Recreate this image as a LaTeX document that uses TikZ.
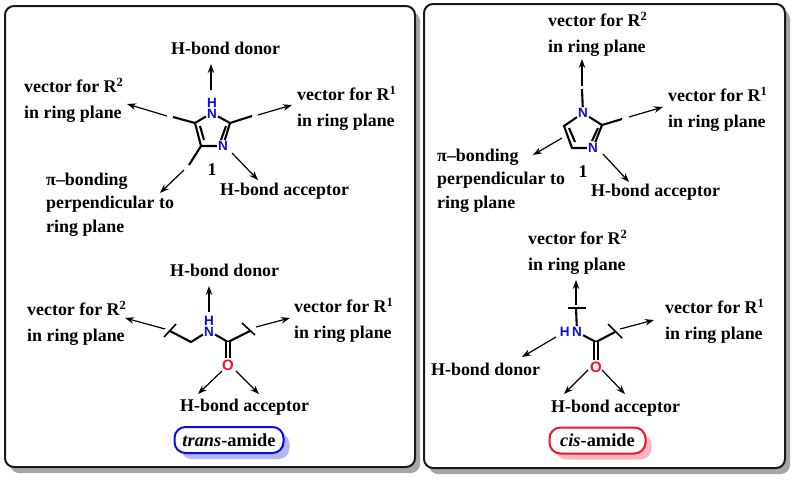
\documentclass[tikz,border=0pt]{standalone}
\usepackage{fontspec}
\setmainfont{Liberation Serif}
\newfontfamily\atomfont{Liberation Sans}
\usetikzlibrary{positioning, arrows.meta, shadows}
\definecolor{hetN}{RGB}{10,10,230}
\definecolor{hetO}{RGB}{240,20,40}
\tikzset{
  lbl/.style={anchor=west, align=left, inner sep=0pt, font=\fontsize{17.9}{26}\selectfont\bfseries},
  num/.style={inner sep=0pt, font=\fontsize{17.9}{26}\selectfont\bfseries},
  atomn/.style={inner sep=1pt, text=hetN, font=\fontsize{13.5}{11}\selectfont\atomfont\bfseries},
  atomnh/.style={atomn, align=center, anchor=south},
  atomo/.style={inner sep=1.5pt, text=hetO, font=\fontsize{15}{15}\selectfont\atomfont\bfseries},
  bond/.style={line width=2.1pt},
  tick/.style={line width=1.6pt},
  vec/.style={line width=1.2pt, -{Stealth[length=9pt,width=6.5pt]}},
  panel/.style={draw=black!90, line width=2pt, rounded corners=9pt, fill=white,
    general shadow={shadow xshift=5pt, shadow yshift=-6pt, fill=black!35, draw=none}},
  tag/.style={line width=2pt, rounded corners=11pt, fill=white, inner sep=0pt,
    font=\fontsize{18.4}{26}\selectfont\bfseries},
}
\begin{document}
\begin{tikzpicture}[x=1pt,y=-1pt]
\useasboundingbox (0,0) rectangle (797,480);
% panels
\node[panel, minimum width=410pt, minimum height=461pt] (leftpanel) at (210,236.5) {};
\node[panel, minimum width=361pt, minimum height=464pt] (rightpanel) at (604.5,236) {};

% left imidazole
\node[atomnh] (n1a) at (212,119.5) {H\\N};
\node[atomn] (n3a) at (223,146) {N};
\coordinate (c2a) at (230,123);
\coordinate (c4a) at (201,146);
\coordinate (c5a) at (195,123);
\coordinate (c4ai) at (204,140);
\coordinate (c5ai) at (200,126);
\coordinate (c2ai) at (226,126);
\coordinate (n3ai) at (221,140);
\coordinate (r1a) at (252,116);
\coordinate (r2a) at (173,117);
\coordinate (pia) at (189,165);
\draw[bond] ([yshift=3pt]n1a.south east) -- (c2a) -- (r1a);
\draw[bond] ([yshift=3pt]n1a.south west) -- (c5a) -- (r2a);
\draw[bond] (c5a) -- (c4a) -- (n3a);
\draw[bond] (c4a) -- (pia);
\draw[bond] (c2a) -- (n3a);
\draw[bond] (c5ai) -- (c4ai);
\draw[bond] (c2ai) -- (n3ai);
\node[num] (numa) at (212,170) {1};
\node[lbl] (donora) at (171,48) {H-bond donor};
\node[lbl] (vecr2a) at (24,100) {vector for R\textsuperscript{2}\\in ring plane};
\node[lbl] (vecr1a) at (297,108) {vector for R\textsuperscript{1}\\in ring plane};
\node[lbl] (pitexta) at (46,204.5) {π–bonding\\[-2.5pt]perpendicular to\\[-2.5pt]ring plane};
\node[lbl] (accepta) at (220,191) {H-bond acceptor};
\coordinate (a1s) at (211,90);
\coordinate (a1e) at (211,64);
\coordinate (a2s) at (258,115);
\coordinate (a2e) at (292,105);
\coordinate (a3s) at (167,116);
\coordinate (a3e) at (127,104);
\coordinate (a4s) at (184,170);
\coordinate (a4e) at (160,193);
\coordinate (a5s) at (232,153);
\coordinate (a5e) at (258,180);
\draw[vec] (a1s) -- (a1e);
\draw[vec] (a2s) -- (a2e);
\draw[vec] (a3s) -- (a3e);
\draw[vec] (a4s) -- (a4e);
\draw[vec] (a5s) -- (a5e);

% left amide
\node[atomnh] (nb) at (209,337.5) {H\\N};
\node[atomo] (ob) at (228,365) {O};
\coordinate (ch2b) at (191,342);
\coordinate (cob) at (228,342);
\coordinate (r2b) at (170,331);
\coordinate (r1b) at (250,331);
\draw[bond] (r2b) -- (ch2b) -- ([yshift=3pt]nb.south west);
\draw[bond] ([yshift=3pt]nb.south east) -- (cob) -- (r1b);
\draw[bond, double=white, double distance=2.6pt, line width=1.6pt] (cob) -- (ob);
\draw[tick] (164,337) -- (176,324);
\draw[tick] (242,323) -- (255,335);
\node[lbl] (donorb) at (170,270) {H-bond donor};
\node[lbl] (vecr2b) at (27,323) {vector for R\textsuperscript{2}\\in ring plane};
\node[lbl] (vecr1b) at (294,320) {vector for R\textsuperscript{1}\\in ring plane};
\node[lbl] (acceptb) at (180,407) {H-bond acceptor};
\coordinate (b1s) at (209,312);
\coordinate (b1e) at (209,286);
\coordinate (b2s) at (256,327);
\coordinate (b2e) at (290,318);
\coordinate (b3s) at (165,329);
\coordinate (b3e) at (125,318);
\coordinate (b4s) at (222,371);
\coordinate (b4e) at (198,394);
\coordinate (b5s) at (236,371);
\coordinate (b5e) at (259,394);
\draw[vec] (b1s) -- (b1e);
\draw[vec] (b2s) -- (b2e);
\draw[vec] (b3s) -- (b3e);
\draw[vec] (b4s) -- (b4e);
\draw[vec] (b5s) -- (b5e);
\node[tag, draw=hetN, minimum width=109pt, minimum height=26pt,
  copy shadow={shadow xshift=6pt, shadow yshift=-6pt, fill=hetN!30, draw=none}] (transtag) at (229,440) {\textit{trans}-amide};

% right imidazole
\node[atomn] (n1c) at (583,113) {N};
\node[atomn] (n3c) at (593,148) {N};
\coordinate (c2c) at (602,125);
\coordinate (c4c) at (572,148);
\coordinate (c5c) at (564,126);
\coordinate (c4ci) at (575,142);
\coordinate (c5ci) at (569,128);
\coordinate (c2ci) at (598,128);
\coordinate (n3ci) at (592,141);
\coordinate (r1c) at (622,119);
\coordinate (r2c) at (582,89);
\draw[bond] (n1c) -- (c2c) -- (r1c);
\draw[bond] (n1c) -- (c5c) -- (c4c) -- (n3c);
\draw[bond] (n1c) -- (r2c);
\draw[bond] (c2c) -- (n3c);
\draw[bond] (c5ci) -- (c4ci);
\draw[bond] (c2ci) -- (n3ci);
\node[num] (numc) at (583,172) {1};
\node[lbl] (vecr2c) at (548,34) {vector for R\textsuperscript{2}\\in ring plane};
\node[lbl] (vecr1c) at (668,109) {vector for R\textsuperscript{1}\\in ring plane};
\node[lbl] (pitextc) at (437,180.5) {π–bonding\\[-2.5pt]perpendicular to\\[-2.5pt]ring plane};
\node[lbl] (acceptc) at (591,192) {H-bond acceptor};
\coordinate (c1s) at (582,86);
\coordinate (c1e) at (582,59);
\coordinate (c2s) at (629,117);
\coordinate (c2e) at (663,107);
\coordinate (c3s) at (562,138);
\coordinate (c3e) at (533,155);
\coordinate (c4s) at (603,154);
\coordinate (c4e) at (629,182);
\draw[vec] (c1s) -- (c1e);
\draw[vec] (c2s) -- (c2e);
\draw[vec] (c3s) -- (c3e);
\draw[vec] (c4s) -- (c4e);

% right amide
\node[atomn] (nd) at (577,332) {N};
\node[atomn, left=0pt of nd] (hd) {H};
\node[atomo] (od) at (596,367) {O};
\coordinate (cod) at (596,342);
\coordinate (r1d) at (615,332);
\coordinate (r2d) at (576,308);
\draw[bond] (nd) -- (cod) -- (r1d);
\draw[bond] (nd) -- (r2d);
\draw[bond, double=white, double distance=2.6pt, line width=1.6pt] (cod) -- (od);
\draw[tick] (568,308) -- (586,308);
\draw[tick] (608,324) -- (622,338);
\node[lbl] (vecr2d) at (528,252) {vector for R\textsuperscript{2}\\in ring plane};
\node[lbl] (vecr1d) at (665,321) {vector for R\textsuperscript{1}\\in ring plane};
\node[lbl] (donord) at (431,369) {H-bond donor};
\node[lbl] (acceptd) at (551,408) {H-bond acceptor};
\coordinate (d1s) at (576,305);
\coordinate (d1e) at (576,280);
\coordinate (d2s) at (620,329);
\coordinate (d2e) at (654,320);
\coordinate (d3s) at (556,337);
\coordinate (d3e) at (522,357);
\coordinate (d4s) at (588,370);
\coordinate (d4e) at (564,394);
\coordinate (d5s) at (602,370);
\coordinate (d5e) at (625,394);
\draw[vec] (d1s) -- (d1e);
\draw[vec] (d2s) -- (d2e);
\draw[vec] (d3s) -- (d3e);
\draw[vec] (d4s) -- (d4e);
\draw[vec] (d5s) -- (d5e);
\node[tag, draw=hetO, minimum width=96pt, minimum height=26pt,
  copy shadow={shadow xshift=6pt, shadow yshift=-6pt, fill=hetO!30, draw=none}] (cistag) at (597.5,440.5) {\textit{cis}-amide};
\end{tikzpicture}
\end{document}
